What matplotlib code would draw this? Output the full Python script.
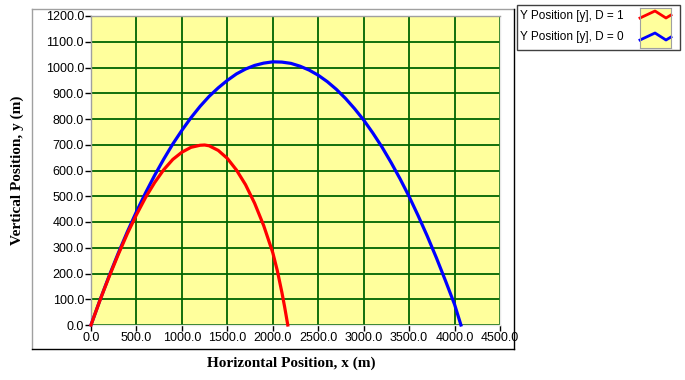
import numpy as np
import matplotlib
matplotlib.use("Agg")
import matplotlib.pyplot as plt
from matplotlib.lines import Line2D
from matplotlib.patches import Rectangle

# ---- data ----
x_d0 = [0, 100, 200, 300, 400, 500, 600, 700, 800, 900, 1000, 1100, 1200,
        1300, 1400, 1500, 1600, 1700, 1800, 1900, 2000, 2100, 2200, 2300,
        2400, 2500, 2600, 2700, 2800, 2900, 3000, 3100, 3200, 3300, 3400,
        3500, 3600, 3700, 3800, 3900, 4000, 4070]
y_d0 = [0, 98, 191, 279, 362, 440, 513, 581, 644, 703, 756, 805, 849,
        888, 921, 950, 975, 994, 1008, 1017, 1022, 1021, 1016, 1005,
        990, 970, 945, 915, 880, 840, 796, 746, 692, 632, 568,
        499, 424, 345, 261, 172, 80, 0]

x_d1 = [0, 50, 100, 150, 200, 300, 400, 500, 600, 700, 800, 900, 1000,
        1100, 1200, 1250, 1300, 1400, 1500, 1600, 1700, 1800, 1900, 2000,
        2050, 2100, 2130, 2165]
y_d1 = [0, 49, 97, 143, 188, 274, 355, 428, 495, 553, 603, 643, 671,
        690, 698, 699, 696, 678, 647, 602, 545, 473, 386, 281,
        211, 127, 71, 0]

labels = ["Y Position [y], D = 1", "Y Position [y], D = 0"]
x_ticks = [0, 500, 1000, 1500, 2000, 2500, 3000, 3500, 4000, 4500]
y_ticks = [0, 100, 200, 300, 400, 500, 600, 700, 800, 900, 1000, 1100, 1200]
x_label = "Horizontal Position, x (m)"
y_label = "Vertical Position, y (m)"

W, H = 685, 380
fig = plt.figure(figsize=(W / 100, H / 100), dpi=100)
fig.patch.set_facecolor("white")

def fx(px):
    return px / W

def fy(py):
    return 1 - py / H

YELLOW = "#FFFF9C"

# plot area in pixels
L, R, T, B = 91, 500, 16, 325
ax = fig.add_axes([fx(L), fy(B), (R - L) / W, (B - T) / H])
ax.set_facecolor(YELLOW)

ax.set_xlim(0, 4500)
ax.set_ylim(0, 1200)
ax.set_xticks(x_ticks)
ax.set_yticks(y_ticks)
ax.set_xticklabels([f"{v:.1f}" for v in x_ticks])
ax.set_yticklabels([f"{v:.1f}" for v in y_ticks])
ax.grid(True, color="#006400", linewidth=1.3)
ax.set_axisbelow(True)
ax.tick_params(direction="out", length=4, width=1, color="black",
               labelsize=9, pad=1)
for lab in ax.get_xticklabels() + ax.get_yticklabels():
    lab.set_fontfamily("Liberation Sans")

for side, col in [("left", "#a0a0a0"), ("top", "#a0a0a0"),
                  ("right", "#e8e8e8"), ("bottom", "#e8e8e8")]:
    ax.spines[side].set_color(col)
    ax.spines[side].set_linewidth(1.0)

l0, = ax.plot(x_d0, y_d0, color="#0000FF", linewidth=2.3,
              solid_joinstyle="round", zorder=3, clip_on=False)
l1, = ax.plot(x_d1, y_d1, color="#FF0000", linewidth=2.3,
              solid_joinstyle="round", zorder=4, clip_on=False)

fig.text(fx(291), fy(363), x_label, ha="center", va="center",
         fontfamily="Liberation Serif", fontweight="bold", fontsize=11)
fig.text(fx(17), fy(170), y_label, ha="center", va="center", rotation=90,
         fontfamily="Liberation Serif", fontweight="bold", fontsize=11)

# outer sunken frame
fl, fr, ft, fb = 32, 514, 9, 349
fig.add_artist(Line2D([fx(fl), fx(fl)], [fy(fb), fy(ft)], color="#a0a0a0", lw=1))
fig.add_artist(Line2D([fx(fl), fx(fr)], [fy(ft), fy(ft)], color="#a0a0a0", lw=1))
fig.add_artist(Line2D([fx(fr), fx(fr)], [fy(ft), fy(fb)], color="black", lw=1))
fig.add_artist(Line2D([fx(fl), fx(fr)], [fy(fb), fy(fb)], color="black", lw=1))

# ---- legend box (drawn by hand) ----
lg_l, lg_r, lg_t, lg_b = 517, 680, 5, 50
fig.add_artist(Rectangle((fx(lg_l), fy(lg_b)), (lg_r - lg_l) / W,
                         (lg_b - lg_t) / H, transform=fig.transFigure,
                         facecolor="white", edgecolor="#404040", lw=1.0,
                         zorder=0.5))
for lab, ty in zip(labels, [16, 37]):
    fig.text(fx(520), fy(ty), lab, ha="left", va="center",
             fontfamily="Liberation Sans", fontsize=8.5, zorder=6)

ic_l, ic_r, ic_t, ic_b = 640, 671, 8, 48
iax = fig.add_axes([fx(ic_l), fy(ic_b), (ic_r - ic_l) / W, (ic_b - ic_t) / H])
iax.set_zorder(10)
iax.set_facecolor(YELLOW)
iax.set_xlim(0, 31)
iax.set_ylim(40, 0)
iax.set_xticks([])
iax.set_yticks([])
for sp in iax.spines.values():
    sp.set_color("#a0a0a0")
    sp.set_linewidth(0.8)
zig_x = [0, 15, 26, 31]
zig_y = [10, 3, 10, 7]
for line, off in [(l1, 0), (l0, 22)]:
    iax.plot(zig_x, [v + off for v in zig_y], color=line.get_color(),
             linewidth=2.0, solid_joinstyle="round", clip_on=False)

fig.savefig("out.png", dpi=100)
